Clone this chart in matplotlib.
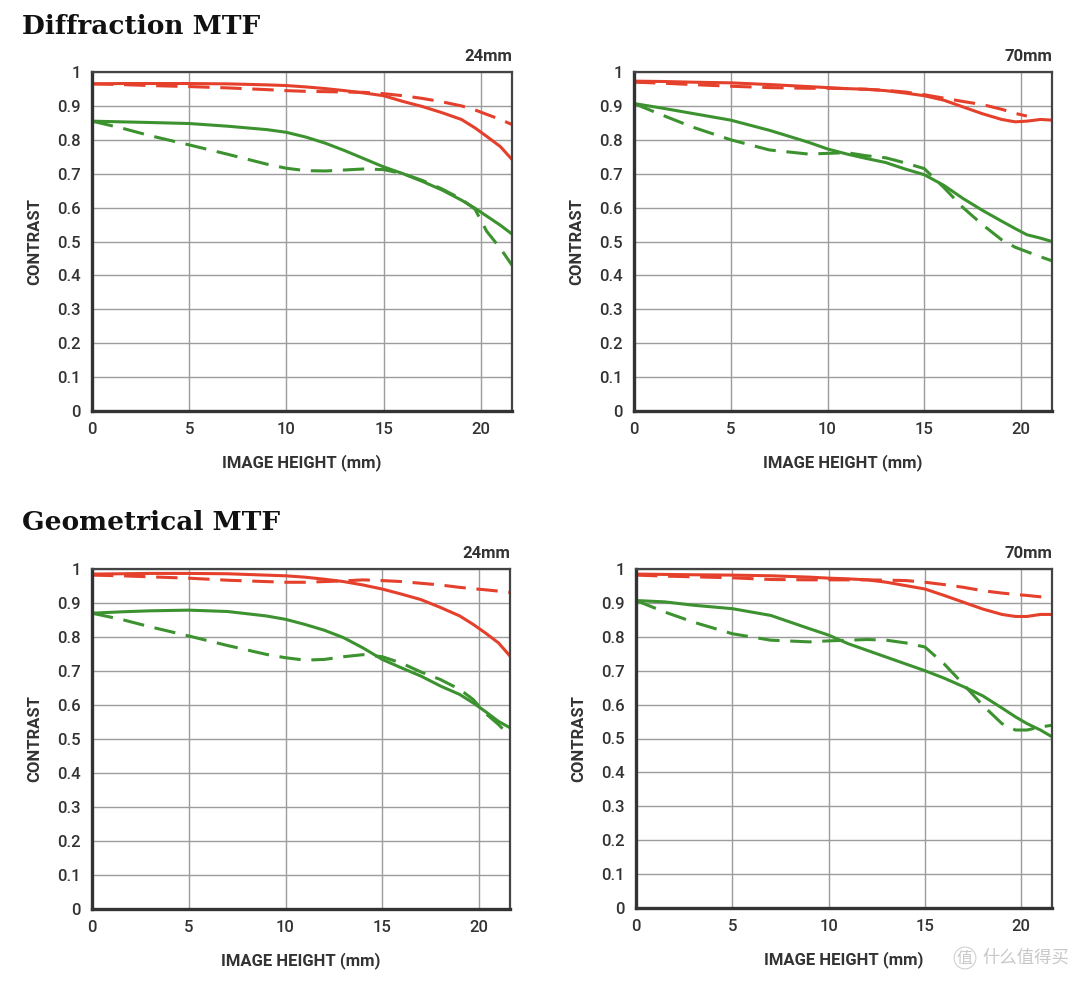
import matplotlib
matplotlib.use("Agg")
import matplotlib.pyplot as plt
import numpy as np

plt.rcParams['font.family'] = ['Roboto', 'DejaVu Sans']

# image height (mm) sample positions shared by every curve
x_mm = [0, 1.5, 3, 5, 7, 9, 10, 11, 12, 13, 14, 15, 16, 17, 18, 19, 19.7, 20.3, 21, 21.6]

# Diffraction MTF, 24mm
diff24_red_solid = [.965, .966, .966, .966, .965, .962, .960, .956, .951, .945, .938, .930, .913, .898, .880, .860, .835, .810, .780, .742]
diff24_red_dash = [.965, .963, .960, .957, .953, .948, .945, .943, .942, .941, .940, .936, .930, .922, .912, .900, .888, .875, .860, .845]
diff24_green_solid = [.855, .853, .851, .848, .840, .830, .822, .808, .790, .768, .744, .720, .700, .677, .652, .622, .598, .575, .548, .522]
diff24_green_dash = [.855, .835, .812, .785, .757, .728, .716, .709, .708, .711, .714, .712, .700, .680, .655, .625, .595, .530, .480, .430]

# Diffraction MTF, 70mm
diff70_red_solid = [.973, .972, .970, .968, .963, .957, .954, .951, .949, .945, .938, .930, .917, .897, .877, .860, .853, .855, .860, .858]
diff70_red_dash = [.970, .967, .963, .958, .954, .952, .952, .951, .949, .946, .941, .933, .923, .913, .904, .890, .878, .870, np.nan, np.nan]
diff70_green_solid = [.907, .893, .878, .858, .828, .793, .773, .758, .745, .733, .714, .697, .666, .627, .592, .560, .538, .520, .510, .500]
diff70_green_dash = [.907, .872, .838, .800, .770, .758, .760, .762, .753, .747, .732, .715, .660, .600, .550, .505, .483, .470, .455, .443]

# Geometrical MTF, 24mm
geo24_red_solid = [.985, .986, .987, .987, .986, .982, .980, .976, .970, .963, .953, .941, .926, .910, .887, .862, .837, .813, .783, .744]
geo24_red_dash = [.982, .980, .977, .973, .967, .963, .961, .961, .963, .965, .968, .966, .963, .958, .953, .946, .942, .939, .935, .931]
geo24_green_solid = [.870, .874, .877, .879, .875, .862, .852, .837, .820, .798, .768, .734, .709, .685, .656, .631, .606, .582, .552, .533]
geo24_green_dash = [.870, .852, .830, .803, .775, .749, .739, .732, .734, .742, .748, .742, .723, .697, .675, .646, .616, .577, .543, .508]

# Geometrical MTF, 70mm
geo70_red_solid = [.985, .984, .983, .982, .980, .976, .973, .971, .968, .961, .951, .941, .922, .902, .882, .866, .860, .860, .866, .866]
geo70_red_dash = [.982, .979, .977, .974, .969, .968, .968, .968, .968, .967, .966, .961, .954, .946, .936, .929, .925, .922, .918, .912]
geo70_green_solid = [.907, .903, .893, .883, .863, .824, .805, .780, .760, .740, .720, .700, .678, .653, .626, .590, .564, .544, .525, .505]
geo70_green_dash = [.907, .873, .843, .809, .790, .785, .788, .790, .792, .790, .782, .770, .720, .660, .598, .544, .525, .525, .534, .539]

x_ticks = [0, 5, 10, 15, 20]
y_ticks = [0, 0.1, 0.2, 0.3, 0.4, 0.5, 0.6, 0.7, 0.8, 0.9, 1]
y_tick_labels = ['0', '0.1', '0.2', '0.3', '0.4', '0.5', '0.6', '0.7', '0.8', '0.9', '1']

RED = '#e5402c'
GREEN = '#3d9230'
TXT = '#333333'

fig = plt.figure(figsize=(10.8, 9.81), dpi=100)

panels = [
    ([92, 72, 512, 411], '24mm', diff24_red_solid, diff24_red_dash, diff24_green_solid, diff24_green_dash),
    ([634, 72, 1052, 411], '70mm', diff70_red_solid, diff70_red_dash, diff70_green_solid, diff70_green_dash),
    ([92, 569, 510, 909], '24mm', geo24_red_solid, geo24_red_dash, geo24_green_solid, geo24_green_dash),
    ([636, 569, 1052, 908], '70mm', geo70_red_solid, geo70_red_dash, geo70_green_solid, geo70_green_dash),
]

W, H = 1080, 981
for box, focal, rs, rd, gs, gd in panels:
    l, t, r, b = box
    ax = fig.add_axes([l / W, 1 - b / H, (r - l) / W, (b - t) / H])
    ax.set_xlim(0, 21.6)
    ax.set_ylim(0, 1)
    ax.set_xticks(x_ticks)
    ax.set_yticks(y_ticks)
    ax.set_yticklabels(y_tick_labels)
    ax.grid(True, color='#9c9c9c', lw=1.0)
    ax.set_axisbelow(True)
    ax.tick_params(length=0, labelsize=12, colors=TXT, pad=8)
    for lab in ax.get_xticklabels() + ax.get_yticklabels():
        lab.set_fontweight('medium')
    for s in ['left', 'bottom']:
        ax.spines[s].set_linewidth(2.4)
        ax.spines[s].set_color('#333333')
    for s in ['top', 'right']:
        ax.spines[s].set_linewidth(1.6)
        ax.spines[s].set_color('#444444')

    ax.plot(x_mm, rs, color=RED, lw=2.2, solid_capstyle='round')
    ax.plot(x_mm, rd, color=RED, lw=2.2, dashes=(7, 3.5))
    ax.plot(x_mm, gs, color=GREEN, lw=2.2, solid_capstyle='round')
    ax.plot(x_mm, gd, color=GREEN, lw=2.2, dashes=(7, 3.5))

    ax.set_xlabel('IMAGE HEIGHT (mm)', fontsize=12, color=TXT, fontweight='semibold', labelpad=12)
    ax.set_ylabel('CONTRAST', fontsize=12, color=TXT, fontweight='semibold', labelpad=11)
    ax.text(1.0, 1.025, focal, transform=ax.transAxes, ha='right', va='bottom',
            fontsize=12, color=TXT, fontweight='semibold')

fig.text(22 / W, 1 - 27 / H, 'Diffraction MTF', fontsize=19, fontweight='bold',
         family='DejaVu Serif', va='center', ha='left', color='#111111')
fig.text(22 / W, 1 - 523 / H, 'Geometrical MTF', fontsize=19, fontweight='bold',
         family='DejaVu Serif', va='center', ha='left', color='#111111')

# watermark
fig.text(965 / W, 1 - 958 / H, '值', fontsize=11.5, color='#c8c8c8', va='center', ha='center',
         family=['Noto Sans CJK SC', 'DejaVu Sans'],
         bbox=dict(boxstyle='circle,pad=0.15', fc='none', ec='#d0d0d0', lw=0.8))
fig.text(982 / W, 1 - 958 / H, '什么值得买', fontsize=12.5, color='#c8c8c8', va='center', ha='left',
         family=['Noto Sans CJK SC', 'DejaVu Sans'])

fig.savefig('out.png', dpi=100, facecolor='white')
